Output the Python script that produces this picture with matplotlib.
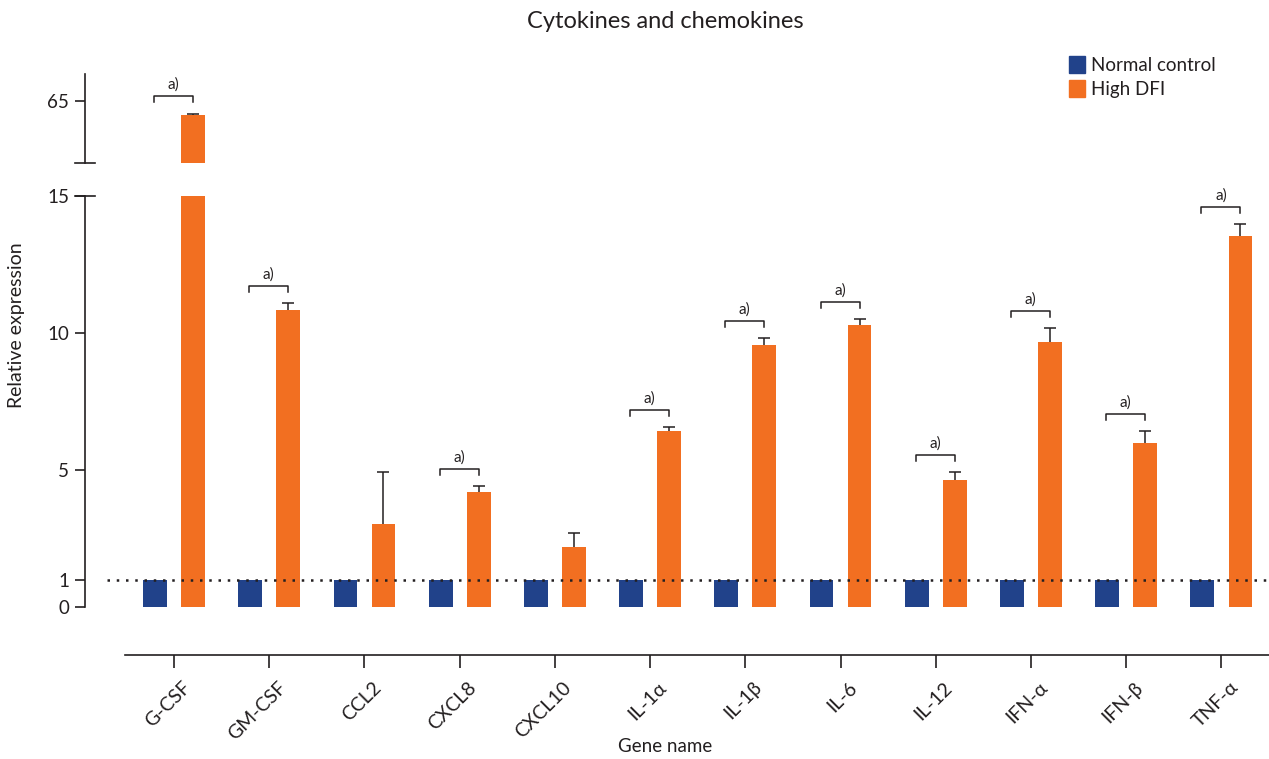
import matplotlib
matplotlib.use("Agg")
import matplotlib.pyplot as plt
import matplotlib.transforms as mtransforms
from matplotlib.patches import Patch
import numpy as np

plt.rcParams['font.family'] = ['Lato', 'DejaVu Sans']

genes = ["G-CSF", "GM-CSF", "CCL2", "CXCL8", "CXCL10", "IL-1α", "IL-1β",
         "IL-6", "IL-12", "IFN-α", "IFN-β", "TNF-α"]
normal_control = [1, 1, 1, 1, 1, 1, 1, 1, 1, 1, 1, 1]
high_dfi = [63.9, 10.84, 3.04, 4.21, 2.19, 6.42, 9.56, 10.29, 4.64, 9.67, 5.99, 13.54]
high_dfi_err = [0.1, 0.25, 1.9, 0.21, 0.5, 0.15, 0.26, 0.22, 0.29, 0.51, 0.43, 0.42]
significant = [True, True, False, True, False, True, True, True, True, True, True, True]

BLUE = "#21428a"
ORANGE = "#f26f21"
DARK = "#231f20"

W, H = 1269, 759
fig = plt.figure(figsize=(W / 100, H / 100), dpi=100)

def fx(px):
    return px / W

def fy(py):
    return 1 - py / H

left_px, right_px = 85, 1269
ax_lo = fig.add_axes([fx(left_px), fy(655), fx(right_px - left_px), fy(196) - fy(655)])
ax_hi = fig.add_axes([fx(left_px), fy(163), fx(right_px - left_px), fy(74) - fy(163)])

x = np.arange(len(genes))
bw = 0.25
off = 0.2
xlim = (-0.935, 11.5)

for ax in (ax_lo, ax_hi):
    ax.bar(x - off, normal_control, bw, color=BLUE, zorder=2)
    ax.bar(x + off, high_dfi, bw, color=ORANGE, zorder=2)
    eb = ax.errorbar(x + off, high_dfi, yerr=[np.zeros(len(x)), high_dfi_err], fmt='none',
                     ecolor=DARK, elinewidth=1.1, capsize=4, capthick=1.1, zorder=3)
    # keep only the upper caps
    eb[1][0].set_visible(False)
    ax.set_xlim(*xlim)
    for s in ('top', 'right'):
        ax.spines[s].set_visible(False)
    ax.spines['left'].set_color(DARK)
    ax.spines['left'].set_linewidth(1.2)
    ax.tick_params(axis='y', direction='out', length=7.5, width=1.2, color=DARK,
                   labelsize=13.5, labelcolor=DARK, pad=4)

# lower axis
ax_lo.set_ylim(-1.75, 15)
ax_lo.set_yticks([0, 1, 5, 10, 15])
ax_lo.spines['left'].set_bounds(0, 15)
ax_lo.spines['bottom'].set_bounds(-0.515, xlim[1])
ax_lo.spines['bottom'].set_color(DARK)
ax_lo.spines['bottom'].set_linewidth(1.2)
ax_lo.set_xticks(x)
ax_lo.set_xticklabels(genes, rotation=45, ha='right', rotation_mode='anchor', fontsize=14,
                      color=DARK)
ax_lo.tick_params(axis='x', direction='out', length=9, width=1.2, color=DARK, pad=8)
shift = mtransforms.ScaledTranslation(8 / 100, 0, fig.dpi_scale_trans)
for lab in ax_lo.get_xticklabels():
    lab.set_transform(lab.get_transform() + shift)
ax_lo.axhline(1, xmin=(-0.70 - xlim[0]) / (xlim[1] - xlim[0]), xmax=1, color=DARK,
              linestyle=(0, (1, 2.7)), linewidth=1.8, zorder=4)

# upper axis
ax_hi.set_ylim(60, 67.2)
ax_hi.set_yticks([65])
ax_hi.spines['bottom'].set_visible(False)
ax_hi.set_xticks([])

# break markers (ticks crossing the spine)
d = 10 / (right_px - left_px)
ax_lo.plot([-d, d], [1, 1], transform=ax_lo.transAxes, color=DARK, lw=1.2, clip_on=False)
ax_hi.plot([-d, d], [0, 0], transform=ax_hi.transAxes, color=DARK, lw=1.2, clip_on=False)

# significance brackets
for i, sig in enumerate(significant):
    if not sig:
        continue
    ax = ax_hi if high_dfi[i] > 15 else ax_lo
    ytop = high_dfi[i] + high_dfi_err[i]
    x0, x1 = i - 0.21, i + 0.2
    trl = mtransforms.offset_copy(ax.transData, fig=fig, x=0, y=8.2, units='points')
    trh = mtransforms.offset_copy(ax.transData, fig=fig, x=0, y=12.5, units='points')
    p_lo = trl.transform([(x0, ytop), (x1, ytop)])
    p_hi = trh.transform([(x0, ytop), (x1, ytop)])
    xs = [p_lo[0][0], p_hi[0][0], p_hi[1][0], p_lo[1][0]]
    ys = [p_lo[0][1], p_hi[0][1], p_hi[1][1], p_lo[1][1]]
    fig.add_artist(plt.Line2D([v / W for v in xs], [v / H for v in ys],
                              transform=fig.transFigure, color=DARK, lw=1.1))
    trt = mtransforms.offset_copy(ax.transData, fig=fig, x=0, y=15.5, units='points')
    ax.text((x0 + x1) / 2, ytop, 'a)', transform=trt, ha='center', va='bottom',
            fontsize=11, color=DARK, clip_on=False)

# titles and labels
fig.text(fx(665), fy(22), 'Cytokines and chemokines', ha='center', va='center',
         fontsize=17, color=DARK)
fig.text(fx(17), fy(325), 'Relative expression', rotation=90, ha='center', va='center',
         fontsize=14, color=DARK)
fig.text(fx(665), fy(746), 'Gene name', ha='center', va='center', fontsize=13.5, color=DARK)

# legend
handles = [Patch(color=BLUE, label='Normal control'), Patch(color=ORANGE, label='High DFI')]
fig.legend(handles=handles, loc='upper left', bbox_to_anchor=(fx(1065), fy(52)),
           frameon=False, fontsize=13.5, handlelength=0.85, handleheight=1.0,
           handletextpad=0.35, labelspacing=0.35, borderaxespad=0, borderpad=0.2,
           labelcolor=DARK)

fig.savefig('out.png', dpi=100)
